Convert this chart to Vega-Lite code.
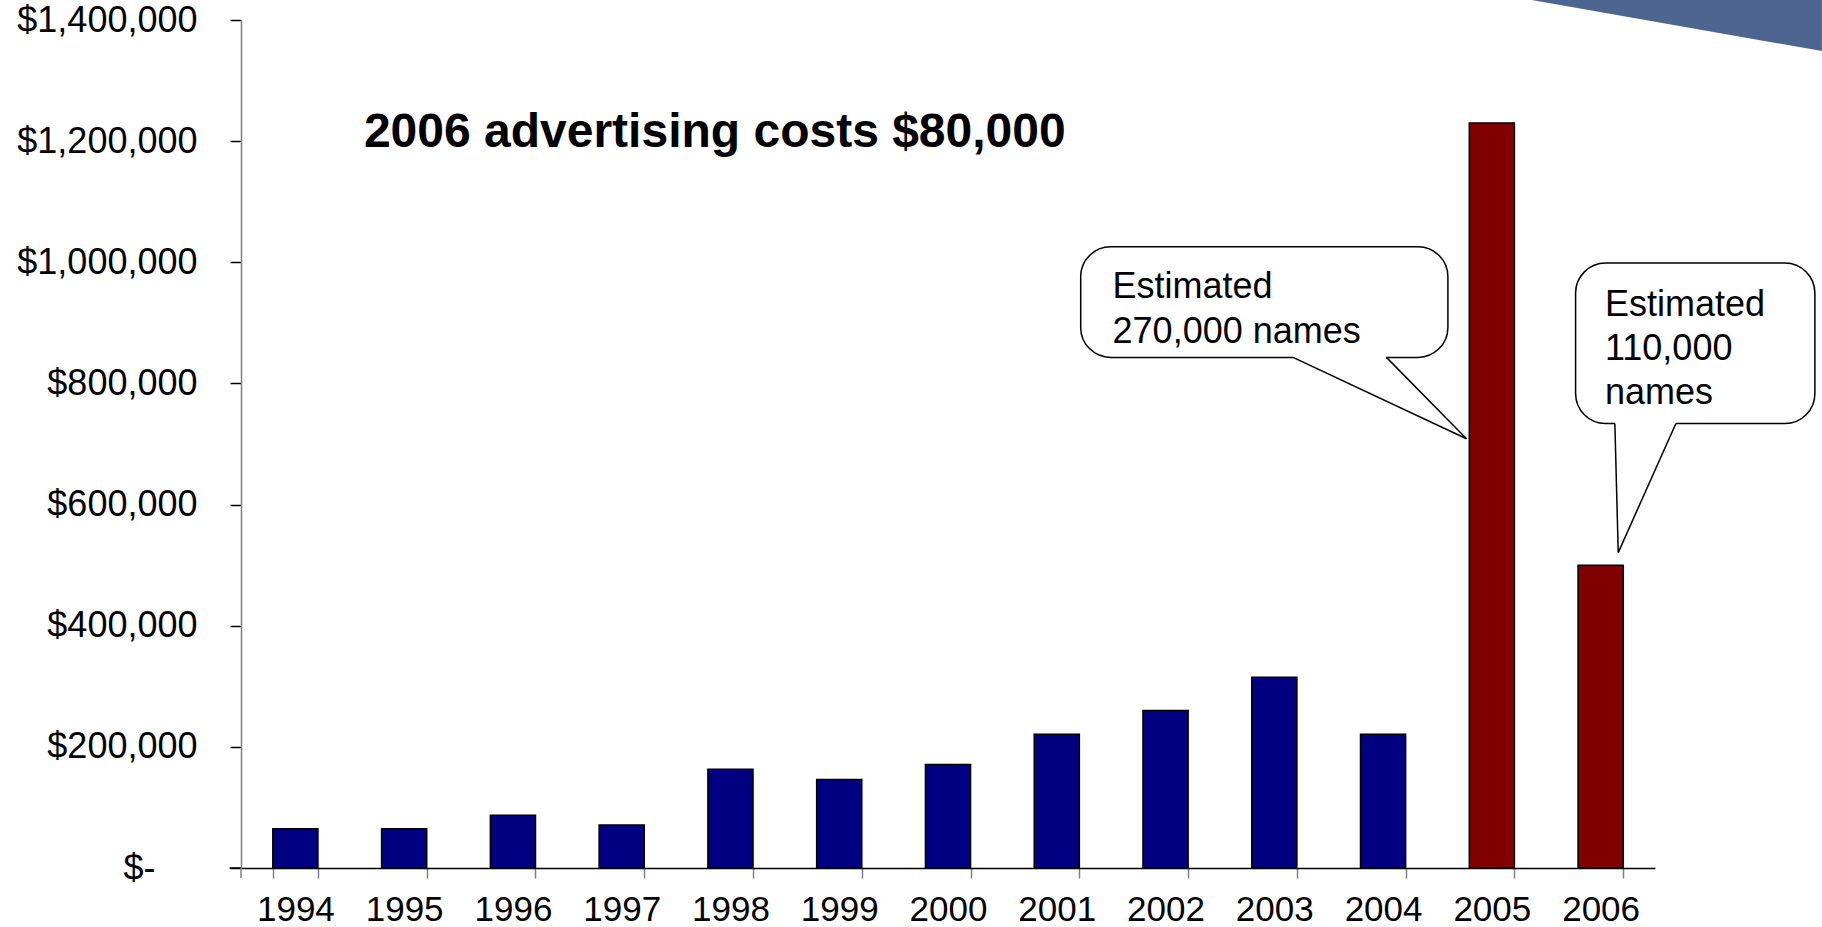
{
  "$schema": "https://vega.github.io/schema/vega-lite/v6.json",
  "width": 1414,
  "height": 848,
  "autosize": {"type": "none"},
  "padding": {"left": 241, "top": 20, "right": 167, "bottom": 59},
  "background": "white",
  "config": {"view": {"stroke": null}, "font": "Liberation Sans"},
  "data": {
    "values": [
      {"year": 1994, "cost": 65000},
      {"year": 1995, "cost": 65000},
      {"year": 1996, "cost": 87000},
      {"year": 1997, "cost": 71000},
      {"year": 1998, "cost": 163000},
      {"year": 1999, "cost": 146000},
      {"year": 2000, "cost": 171000},
      {"year": 2001, "cost": 221000},
      {"year": 2002, "cost": 260000},
      {"year": 2003, "cost": 315000},
      {"year": 2004, "cost": 221000},
      {"year": 2005, "cost": 1230000},
      {"year": 2006, "cost": 500000}
    ]
  },
  "resolve": {"scale": {"x": "independent"}, "axis": {"x": "independent"}},
  "layer": [
    {
      "mark": {"type": "bar", "stroke": "black", "strokeWidth": 1.5},
      "encoding": {
        "x": {
          "field": "year",
          "type": "ordinal",
          "scale": {"paddingInner": 0.585, "paddingOuter": 0.2925},
          "axis": {
            "title": null,
            "labelAngle": 0,
            "labelFontSize": 35,
            "labelFont": "Liberation Sans",
            "labelColor": "black",
            "labelPadding": 14,
            "tickBand": "extent",
            "tickSize": 10,
            "tickColor": "#808080",
            "tickWidth": 1.5,
            "domainColor": "black",
            "domainWidth": 1.5,
            "grid": false
          }
        },
        "y": {
          "field": "cost",
          "type": "quantitative",
          "scale": {"domain": [0, 1400000], "nice": false},
          "axis": {
            "title": null,
            "values": [0, 200000, 400000, 600000, 800000, 1000000, 1200000, 1400000],
            "labelExpr": "datum.value == 0 ? '$-' : '$' + format(datum.value, ',')",
            "labelFontSize": 36,
            "labelFont": "Liberation Sans",
            "labelColor": "black",
            "labelLimit": 400,
            "labelPadding": {"condition": {"test": "datum.value == 0", "value": 75}, "value": 33},
            "tickSize": 11,
            "tickColor": "black",
            "tickWidth": 1.5,
            "domainColor": "#808080",
            "domainWidth": 1.5,
            "grid": false
          }
        },
        "color": {"condition": {"test": "datum.year >= 2005", "value": "#800000"}, "value": "#000080"}
      }
    },
    {
      "data": {"values": [{}]},
      "layer": [
        {
          "mark": {"type": "rule", "stroke": "black", "strokeWidth": 1.5},
          "encoding": {
            "x": {"datum": -0.105, "type": "quantitative", "scale": {"domain": [0, 13], "nice": false, "zero": false}, "axis": null},
            "x2": {"datum": 0},
            "y": {"datum": 0, "type": "quantitative"},
            "y2": {"datum": 0}
          }
        },
        {
          "mark": {"type": "rule", "stroke": "#808080", "strokeWidth": 1.5},
          "encoding": {
            "x": {"datum": 0, "type": "quantitative", "scale": {"domain": [0, 13], "nice": false, "zero": false}, "axis": null},
            "y": {"datum": 0, "type": "quantitative"},
            "y2": {"datum": -16500}
          }
        },
        {
          "mark": {"type": "point", "shape": "M -1 -0.176 L 1 -0.176 L 1 0.176 Z", "filled": true, "fill": "#4f6591", "strokeWidth": 0, "opacity": 1, "size": 87616},
          "encoding": {
            "x": {"datum": 13.174, "type": "quantitative", "scale": {"domain": [0, 13], "nice": false, "zero": false}, "axis": null},
            "y": {"datum": 1391700, "type": "quantitative"}
          }
        },
        {
          "mark": {"type": "text", "fontSize": 48, "fontWeight": "bold", "font": "Liberation Sans", "align": "left", "baseline": "alphabetic", "color": "black"},
          "encoding": {
            "x": {"datum": 1.13, "type": "quantitative", "scale": {"domain": [0, 13], "nice": false, "zero": false}, "axis": null},
            "y": {"datum": 1190700, "type": "quantitative"},
            "text": {"value": "2006 advertising costs $80,000"}
          }
        },
        {
          "mark": {"type": "rect", "fill": "white", "stroke": "black", "strokeWidth": 1.5, "cornerRadius": 30},
          "encoding": {
            "x": {"datum": 7.72, "type": "quantitative", "scale": {"domain": [0, 13], "nice": false, "zero": false}, "axis": null},
            "x2": {"datum": 11.096},
            "y": {"datum": 1025600, "type": "quantitative"},
            "y2": {"datum": 843000}
          }
        },
        {
          "mark": {"type": "rule", "stroke": "white", "strokeWidth": 3},
          "encoding": {
            "x": {"datum": 9.672, "type": "quantitative", "scale": {"domain": [0, 13], "nice": false, "zero": false}, "axis": null},
            "x2": {"datum": 10.531},
            "y": {"datum": 843000, "type": "quantitative"},
            "y2": {"datum": 843000}
          }
        },
        {
          "mark": {"type": "rule", "stroke": "black", "strokeWidth": 1.5},
          "encoding": {
            "x": {"datum": 9.672, "type": "quantitative", "scale": {"domain": [0, 13], "nice": false, "zero": false}, "axis": null},
            "x2": {"datum": 11.267},
            "y": {"datum": 843000, "type": "quantitative"},
            "y2": {"datum": 708600}
          }
        },
        {
          "mark": {"type": "rule", "stroke": "black", "strokeWidth": 1.5},
          "encoding": {
            "x": {"datum": 10.531, "type": "quantitative", "scale": {"domain": [0, 13], "nice": false, "zero": false}, "axis": null},
            "x2": {"datum": 11.267},
            "y": {"datum": 843000, "type": "quantitative"},
            "y2": {"datum": 708600}
          }
        },
        {
          "mark": {"type": "text", "fontSize": 36, "font": "Liberation Sans", "align": "left", "baseline": "alphabetic", "lineHeight": 45, "color": "black"},
          "encoding": {
            "x": {"datum": 8.013, "type": "quantitative", "scale": {"domain": [0, 13], "nice": false, "zero": false}, "axis": null},
            "y": {"datum": 941200, "type": "quantitative"},
            "text": {"value": ["Estimated", "270,000 names"]}
          }
        },
        {
          "mark": {"type": "rect", "fill": "white", "stroke": "black", "strokeWidth": 1.5, "cornerRadius": 30},
          "encoding": {
            "x": {"datum": 12.27, "type": "quantitative", "scale": {"domain": [0, 13], "nice": false, "zero": false}, "axis": null},
            "x2": {"datum": 14.47},
            "y": {"datum": 998700, "type": "quantitative"},
            "y2": {"datum": 733900}
          }
        },
        {
          "mark": {"type": "rule", "stroke": "white", "strokeWidth": 3},
          "encoding": {
            "x": {"datum": 12.631, "type": "quantitative", "scale": {"domain": [0, 13], "nice": false, "zero": false}, "axis": null},
            "x2": {"datum": 13.192},
            "y": {"datum": 733900, "type": "quantitative"},
            "y2": {"datum": 733900}
          }
        },
        {
          "mark": {"type": "rule", "stroke": "black", "strokeWidth": 1.5},
          "encoding": {
            "x": {"datum": 12.631, "type": "quantitative", "scale": {"domain": [0, 13], "nice": false, "zero": false}, "axis": null},
            "x2": {"datum": 12.662},
            "y": {"datum": 733900, "type": "quantitative"},
            "y2": {"datum": 520700}
          }
        },
        {
          "mark": {"type": "rule", "stroke": "black", "strokeWidth": 1.5},
          "encoding": {
            "x": {"datum": 13.192, "type": "quantitative", "scale": {"domain": [0, 13], "nice": false, "zero": false}, "axis": null},
            "x2": {"datum": 12.662},
            "y": {"datum": 733900, "type": "quantitative"},
            "y2": {"datum": 520700}
          }
        },
        {
          "mark": {"type": "text", "fontSize": 36, "font": "Liberation Sans", "align": "left", "baseline": "alphabetic", "lineHeight": 44, "color": "black"},
          "encoding": {
            "x": {"datum": 12.54, "type": "quantitative", "scale": {"domain": [0, 13], "nice": false, "zero": false}, "axis": null},
            "y": {"datum": 911600, "type": "quantitative"},
            "text": {"value": ["Estimated", "110,000", "names"]}
          }
        }
      ]
    }
  ]
}
